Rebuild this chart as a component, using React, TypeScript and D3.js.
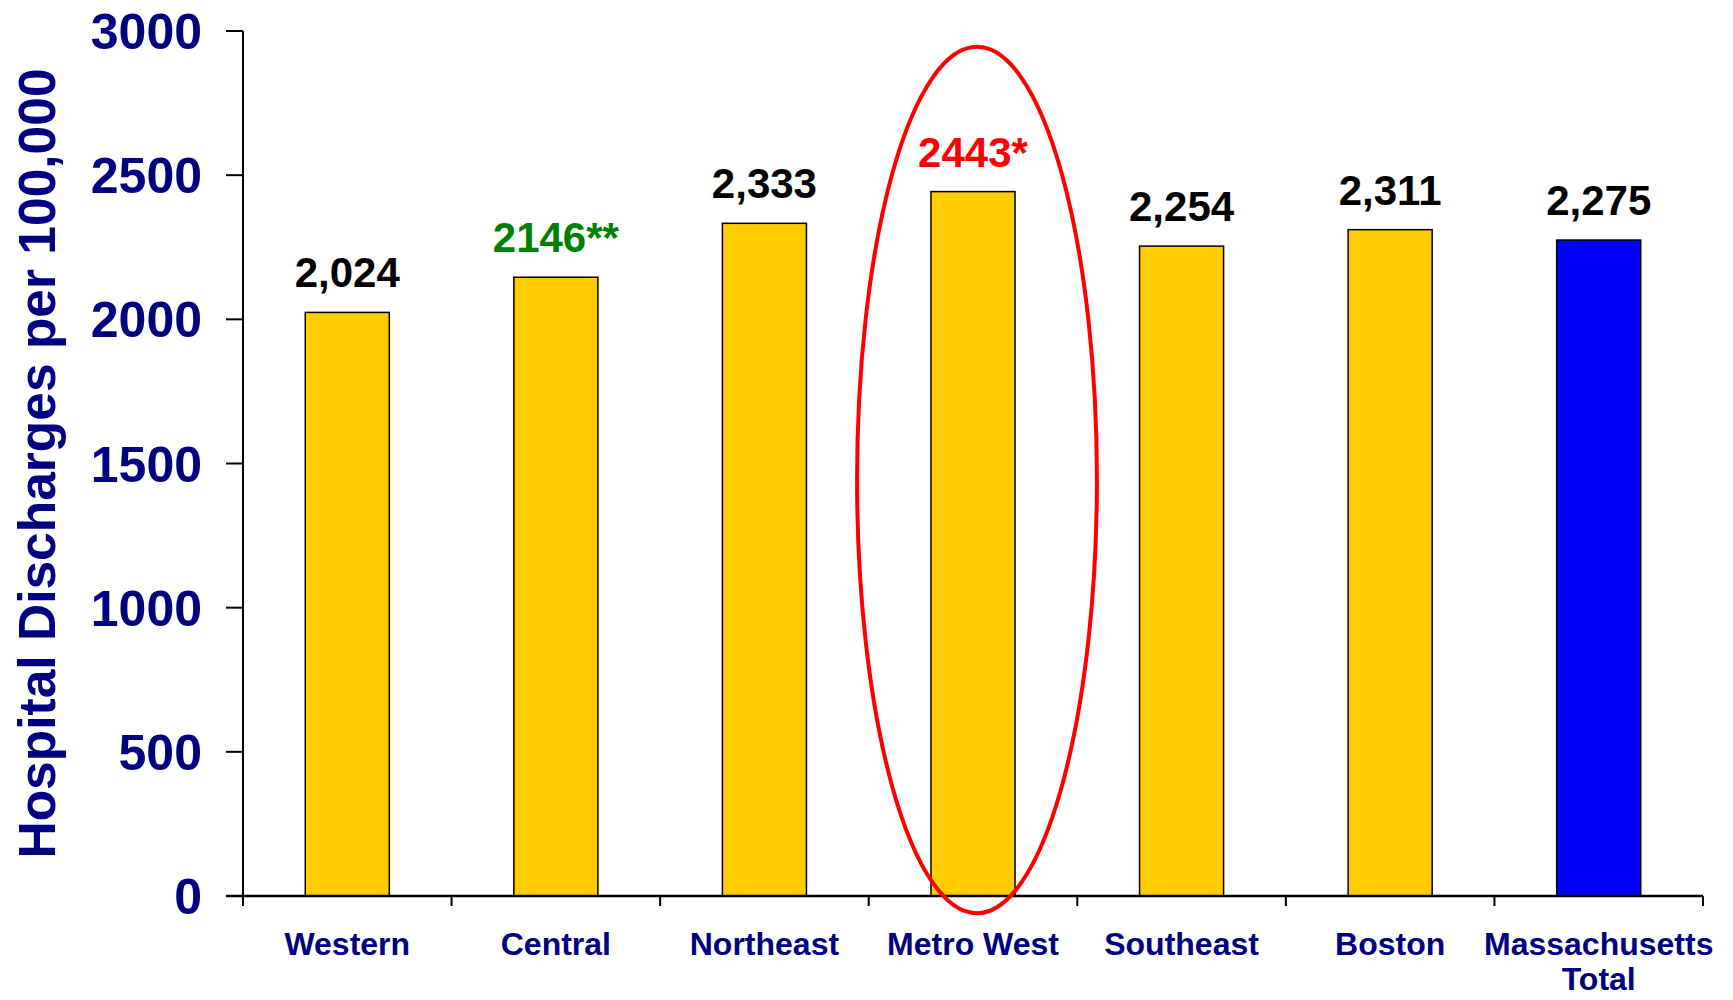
import React, { useEffect } from 'react';
import * as d3 from 'd3';

// chart values
const categories = ['Western', 'Central', 'Northeast', 'Metro West', 'Southeast', 'Boston', 'Massachusetts Total'];
const values = [2024, 2146, 2333, 2443, 2254, 2311, 2275];
const valueLabels = ['2,024', '2146**', '2,333', '2443*', '2,254', '2,311', '2,275'];
const labelColors = ['#000000', '#008000', '#000000', '#FF0000', '#000000', '#000000', '#000000'];
const barColors = ['#FFCC00', '#FFCC00', '#FFCC00', '#FFCC00', '#FFCC00', '#FFCC00', '#0000FF'];
const yTicks = [0, 500, 1000, 1500, 2000, 2500, 3000];
const highlighted = 'Metro West';

const W = 1733;
const H = 1000;
const margin = { top: 31, right: 30, bottom: 104, left: 243 };
const navy = '#000080';
const font = '"Liberation Sans", Arial, Helvetica, sans-serif';

const App = () => {
  useEffect(() => {
    document.body.style.margin = '0';
  }, []);

  const x = d3.scaleBand<string>()
    .domain(categories)
    .range([margin.left, W - margin.right])
    .paddingInner(0.597)
    .paddingOuter(0.2985);

  const y = d3.scaleLinear()
    .domain([0, 3000])
    .range([H - margin.bottom, margin.top]);

  const gap = (x.step() - x.bandwidth()) / 2;
  const boundaries = [
    ...categories.map(c => (x(c) as number) - gap),
    W - margin.right,
  ];

  const y0 = y(0);
  // the hand-drawn ellipse sits a touch right of the bar centre
  const ex = (x(highlighted) as number) + x.bandwidth() / 2 + 4;
  const eTop = y(2945);
  const eBottom = y(-60);

  return (
    <svg width={W} height={H} style={{ display: 'block', background: '#fff' }} fontFamily={font}>
      {/* y axis title */}
      <text
        transform={`translate(55,${(margin.top + y0) / 2}) rotate(-90)`}
        textAnchor="middle"
        fontSize={51.5}
        fontWeight="bold"
        fill={navy}
      >
        Hospital Discharges per 100,000
      </text>

      {/* y ticks + labels */}
      {yTicks.map(t => (
        <g key={t}>
          <line x1={margin.left - 17} x2={margin.left} y1={y(t)} y2={y(t)} stroke="#000" strokeWidth={2} />
          <text
            x={margin.left - 41}
            y={y(t)}
            dy="0.36em"
            textAnchor="end"
            fontSize={50}
            fontWeight="bold"
            fill={navy}
          >
            {t}
          </text>
        </g>
      ))}

      {/* bars */}
      {categories.map((c, i) => (
        <rect
          key={c}
          x={x(c)}
          y={y(values[i])}
          width={x.bandwidth()}
          height={y0 - y(values[i])}
          fill={barColors[i]}
          stroke="#000"
          strokeWidth={1.5}
        />
      ))}

      {/* value labels */}
      {categories.map((c, i) => (
        <text
          key={c}
          x={(x(c) as number) + x.bandwidth() / 2}
          y={y(values[i]) - 25}
          textAnchor="middle"
          fontSize={42}
          fontWeight="bold"
          fill={labelColors[i]}
        >
          {valueLabels[i]}
        </text>
      ))}

      {/* axes */}
      <line x1={margin.left} x2={margin.left} y1={margin.top} y2={y0} stroke="#000" strokeWidth={2} />
      <line x1={margin.left - 17} x2={W - margin.right} y1={y0} y2={y0} stroke="#000" strokeWidth={2.5} />
      {boundaries.map((b, i) => (
        <line key={i} x1={b} x2={b} y1={y0} y2={y0 + 10} stroke="#000" strokeWidth={2} />
      ))}

      {/* category labels */}
      {categories.map(c => {
        const cx = (x(c) as number) + x.bandwidth() / 2;
        const lines = c === 'Massachusetts Total' ? ['Massachusetts', 'Total'] : [c];
        return (
          <text key={c} x={cx} y={955} textAnchor="middle" fontSize={32} fontWeight="bold" fill={navy}>
            {lines.map((l, j) => (
              <tspan key={l} x={cx} dy={j === 0 ? 0 : 35}>{l}</tspan>
            ))}
          </text>
        );
      })}

      {/* highlight ellipse */}
      <ellipse
        cx={ex}
        cy={(eTop + eBottom) / 2}
        rx={x.step() * 0.575}
        ry={(eBottom - eTop) / 2}
        fill="none"
        stroke="#FF0000"
        strokeWidth={4}
      />
    </svg>
  );
};

export default App;
